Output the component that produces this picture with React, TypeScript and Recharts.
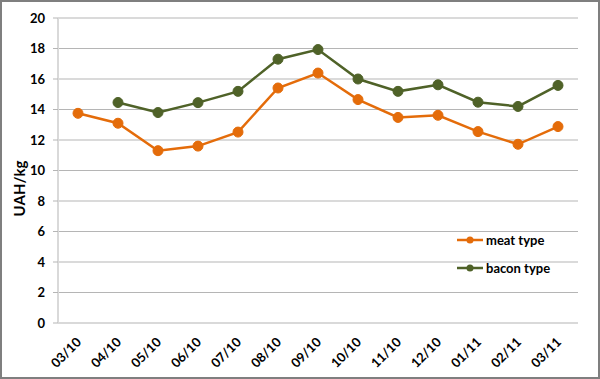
import React from 'react';
import { LineChart, Line, XAxis, YAxis, CartesianGrid } from 'recharts';

const months = ['03/10', '04/10', '05/10', '06/10', '07/10', '08/10', '09/10', '10/10', '11/10', '12/10', '01/11', '02/11', '03/11'];
const meatType = [13.75, 13.1, 11.3, 11.6, 12.52, 15.41, 16.39, 14.65, 13.48, 13.62, 12.55, 11.72, 12.88];
const baconType = [null, 14.46, 13.8, 14.45, 15.19, 17.3, 17.93, 16.0, 15.19, 15.62, 14.48, 14.2, 15.58];
const yTicks = [0, 2, 4, 6, 8, 10, 12, 14, 16, 18, 20];

const data = months.map((m, i) => ({ month: m, meat: meatType[i], bacon: baconType[i] }));

const FONT = 'Lato, "Open Sans", sans-serif';
const ORANGE = '#E46C0A';
const GREEN = '#4F6228';

const XTick = (props: any) => {
  const { x, y, payload } = props;
  return (
    <text
      x={x + 4}
      y={y + 12}
      transform={`rotate(-45, ${x + 4}, ${y + 12})`}
      textAnchor="end"
      fontFamily={FONT}
      fontWeight="bold"
      fontSize={13}
      fill="#000"
    >
      {payload.value}
    </text>
  );
};

const YLabel = (props: any) => {
  const vb = props.viewBox || { x: 0, y: 0, width: 0, height: 0 };
  const cx = 19;
  const cy = vb.y + vb.height / 2 + 18;
  return (
    <text
      x={cx}
      y={cy}
      transform={`rotate(-90, ${cx}, ${cy})`}
      textAnchor="middle"
      dominantBaseline="central"
      fontFamily={FONT}
      fontWeight="bold"
      fontSize={15}
      fill="#000"
    >
      UAH/kg
    </text>
  );
};

const LegendBox = () => {
  const items = [
    { label: 'meat type', color: ORANGE },
    { label: 'bacon type', color: GREEN },
  ];
  return (
    <div style={{ fontFamily: FONT, fontWeight: 'bold', fontSize: 13 }}>
      {items.map((it) => (
        <div key={it.label} style={{ display: 'flex', alignItems: 'center', height: 28 }}>
          <svg width={26} height={10} style={{ marginRight: 3 }}>
            <line x1={0} y1={5} x2={26} y2={5} stroke={it.color} strokeWidth={2.5} />
            <circle cx={13} cy={5} r={3.5} fill={it.color} />
          </svg>
          <span>{it.label}</span>
        </div>
      ))}
    </div>
  );
};

export default function App() {
  return (
    <div style={{ position: 'fixed', left: 0, top: 0, width: 600, height: 379, background: '#fff' }}>
      <LineChart width={600} height={379} data={data} margin={{ top: 18, right: 22, bottom: 16, left: 0 }}>
        <CartesianGrid vertical={false} stroke="#b5b5b5" strokeWidth={1} />
        <XAxis
          dataKey="month"
          height={40}
          padding={{ left: 20, right: 20 }}
          axisLine={{ stroke: '#d9d9d9', strokeWidth: 2 }}
          tickLine={false}
          tick={<XTick />}
          interval={0}
        />
        <YAxis
          width={58}
          domain={[0, 20]}
          ticks={yTicks}
          axisLine={{ stroke: '#d9d9d9', strokeWidth: 2 }}
          tickLine={{ stroke: '#b5b5b5' }}
          tickSize={5}
          tickMargin={8}
          tick={{ fontFamily: FONT, fontWeight: 'bold', fontSize: 13, fill: '#000' }}
          label={<YLabel />}
        />
        <Line
          dataKey="meat"
          name="meat type"
          stroke={ORANGE}
          strokeWidth={2.5}
          dot={{ r: 5, fill: ORANGE, stroke: ORANGE, strokeWidth: 1 }}
          isAnimationActive={false}
        />
        <Line
          dataKey="bacon"
          name="bacon type"
          stroke={GREEN}
          strokeWidth={2.5}
          dot={{ r: 5, fill: GREEN, stroke: GREEN, strokeWidth: 1 }}
          isAnimationActive={false}
        />
      </LineChart>
      <div style={{ position: 'absolute', left: 457, top: 226, width: 130 }}>
        <LegendBox />
      </div>
      <div
        style={{
          position: 'absolute',
          left: 0,
          top: 0,
          width: 600,
          height: 379,
          boxSizing: 'border-box',
          border: '2px solid #7f7f7f',
          pointerEvents: 'none',
        }}
      />
    </div>
  );
}
